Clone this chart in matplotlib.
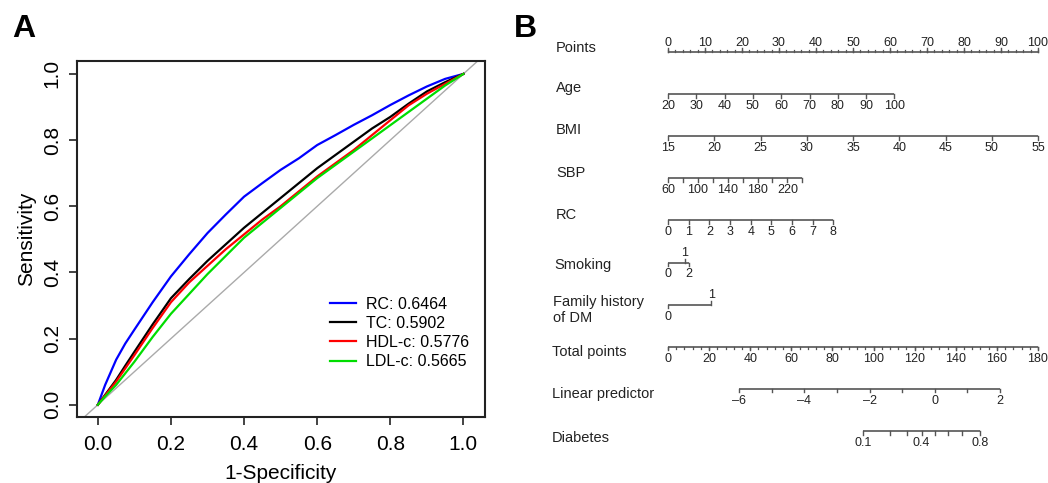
import matplotlib.pyplot as plt
import numpy as np

plt.rcParams['font.family'] = ['Liberation Sans', 'DejaVu Sans']

# ---- Panel A : ROC curves ----
fpr = [0.0, 0.02, 0.05, 0.075, 0.1, 0.15, 0.2, 0.25, 0.3, 0.35, 0.4, 0.45,
       0.5, 0.55, 0.6, 0.65, 0.7, 0.75, 0.8, 0.85, 0.9, 0.95, 1.0]
tpr_rc = [0.0, 0.06, 0.136, 0.185, 0.227, 0.31, 0.388, 0.455, 0.519, 0.575, 0.629, 0.67,
          0.71, 0.745, 0.785, 0.815, 0.846, 0.875, 0.906, 0.935, 0.962, 0.985, 1.0]
tpr_tc = [0.0, 0.03, 0.075, 0.118, 0.16, 0.243, 0.322, 0.38, 0.435, 0.485, 0.535, 0.58,
          0.625, 0.67, 0.715, 0.755, 0.795, 0.835, 0.87, 0.91, 0.947, 0.975, 1.0]
tpr_hdl = [0.0, 0.028, 0.07, 0.11, 0.15, 0.232, 0.31, 0.37, 0.42, 0.47, 0.515, 0.56,
           0.6, 0.645, 0.69, 0.73, 0.77, 0.815, 0.86, 0.905, 0.94, 0.97, 1.0]
tpr_ldl = [0.0, 0.025, 0.06, 0.095, 0.13, 0.205, 0.275, 0.335, 0.395, 0.45, 0.505, 0.55,
           0.595, 0.64, 0.685, 0.725, 0.765, 0.805, 0.845, 0.885, 0.925, 0.965, 1.0]
roc_labels = ['RC: 0.6464', 'TC: 0.5902', 'HDL-c: 0.5776', 'LDL-c: 0.5665']
roc_colors = ['#0000ff', '#000000', '#ff0000', '#00dd00']

# ---- Panel B : nomogram scales ----
points_major = [0, 10, 20, 30, 40, 50, 60, 70, 80, 90, 100]
age_ticks = [20, 30, 40, 50, 60, 70, 80, 90, 100]
age_pts = (0, 61.2)
bmi_ticks = [15, 20, 25, 30, 35, 40, 45, 50, 55]
bmi_pts = (0, 100)
sbp_ticks = [60, 80, 100, 120, 140, 160, 180, 200, 220, 240]
sbp_labels = [60, 100, 140, 180, 220]
sbp_pts = (0, 36.3)
rc_ticks = [0, 1, 2, 3, 4, 5, 6, 7, 8]
rc_pts = (0, 44.7)
smoking_levels = ['0', '1', '2']
smoking_pts = [0, 4.6, 5.7]
smoking_above = [False, True, False]
family_levels = ['0', '1']
family_pts = [0, 11.7]
family_above = [False, True]
total_major = [0, 20, 40, 60, 80, 100, 120, 140, 160, 180]
total_max = 180
lp_ticks = [-6, -5, -4, -3, -2, -1, 0, 1, 2]
lp_labels = [-6, -4, -2, 0, 2]
lp_total = (34.6, 161.5)   # total points at lp = -6 and lp = 2
prob_ticks = [0.1, 0.2, 0.3, 0.4, 0.5, 0.6, 0.7, 0.8]
prob_labels = [0.1, 0.4, 0.8]
row_names = ['Points', 'Age', 'BMI', 'SBP', 'RC', 'Smoking', 'Family history\nof DM',
             'Total points', 'Linear predictor', 'Diabetes']

fig = plt.figure(figsize=(10.48, 4.83), dpi=100)

# ----------------- A -----------------
ax = fig.add_axes([77 / 1048, 66 / 483, 408 / 1048, 356 / 483])
ax.plot([-0.1, 1.1], [-0.1, 1.1], color='#aaaaaa', lw=1.0, zorder=1)
for tpr, lab, col in zip([tpr_rc, tpr_tc, tpr_hdl, tpr_ldl], roc_labels, roc_colors):
    ax.plot(fpr, tpr, color=col, lw=1.6, label=lab, zorder=2)
ax.set_xlim(-0.057, 1.059)
ax.set_ylim(-0.037, 1.039)
ax.set_xticks([0, 0.2, 0.4, 0.6, 0.8, 1.0])
ax.set_yticks([0, 0.2, 0.4, 0.6, 0.8, 1.0])
ax.xaxis.set_major_formatter(plt.FormatStrFormatter('%.1f'))
ax.yaxis.set_major_formatter(plt.FormatStrFormatter('%.1f'))
ax.tick_params(length=6, width=1.2, labelsize=15, color='#222222')
ax.tick_params(axis='x', pad=7)
ax.tick_params(axis='y', pad=5)
for lbl in ax.get_yticklabels():
    lbl.set_rotation(90)
    lbl.set_va('center')
for s in ax.spines.values():
    s.set_linewidth(1.5)
    s.set_color('#222222')
ax.set_xlabel('1-Specificity', fontsize=15, labelpad=7)
ax.set_ylabel('Sensitivity', fontsize=15, labelpad=5)
ax.legend(loc='upper left', bbox_to_anchor=(0.62, 0.338), frameon=False, fontsize=11.5,
          handlelength=1.65, handletextpad=0.6, labelspacing=0.26, borderpad=0,
          borderaxespad=0)

fig.text(12 / 1048, 1 - 37 / 483, 'A', fontsize=23, fontweight='bold')
fig.text(514 / 1048, 1 - 37 / 483, 'B', fontsize=23, fontweight='bold')

# ----------------- B -----------------
bx = fig.add_axes([668 / 1048, 13 / 483, 370 / 1048, 460 / 483])
bx.set_xlim(0, 100)
bx.set_ylim(9.926, -0.997)
bx.axis('off')

line_col = '#555555'
txt_col = '#222222'
tick_len = 0.085
lab_fs = 9


def draw_scale(row, xs, labels=None, label_xs=None, above=None, minor=None,
               minor_len=0.05, up=False):
    bx.plot([min(xs), max(xs)], [row, row], color=line_col, lw=1.2,
            solid_capstyle='butt', clip_on=False)
    for x in xs:
        d = -tick_len if up else tick_len
        bx.plot([x, x], [row, row + d], color=line_col, lw=1.0, clip_on=False)
    if minor is not None:
        for x in minor:
            d = -minor_len if up else minor_len
            bx.plot([x, x], [row, row + d], color=line_col, lw=0.9, clip_on=False)
    if labels is None:
        return
    if label_xs is None:
        label_xs = xs
    if above is None:
        above = [up] * len(labels)
    for x, t, a in zip(label_xs, labels, above):
        if a:
            if not up:
                bx.plot([x, x], [row, row - tick_len], color=line_col, lw=1.0)
            bx.text(x, row - 0.08, t, ha='center', va='bottom', fontsize=lab_fs,
                    color=txt_col)
        else:
            bx.text(x, row + 0.14, t, ha='center', va='top', fontsize=lab_fs,
                    color=txt_col)


def scale(vals, v0, v1, p0, p1):
    vals = np.asarray(vals, dtype=float)
    return p0 + (vals - v0) / (v1 - v0) * (p1 - p0)


# Points
draw_scale(0, points_major, [str(v) for v in points_major],
           minor=np.arange(0, 101, 2), up=True)
# Age
ax_x = scale(age_ticks, age_ticks[0], age_ticks[-1], *age_pts)
draw_scale(1, ax_x, [str(v) for v in age_ticks])
# BMI
bx_x = scale(bmi_ticks, bmi_ticks[0], bmi_ticks[-1], *bmi_pts)
draw_scale(2, bx_x, [str(v) for v in bmi_ticks])
# SBP
sx = scale(sbp_ticks, sbp_ticks[0], sbp_ticks[-1], *sbp_pts)
draw_scale(3, sx, [str(v) for v in sbp_labels],
           label_xs=scale(sbp_labels, sbp_ticks[0], sbp_ticks[-1], *sbp_pts))
# RC
rx = scale(rc_ticks, rc_ticks[0], rc_ticks[-1], *rc_pts)
draw_scale(4, rx, [str(v) for v in rc_ticks])
# Smoking
draw_scale(5, [smoking_pts[0], smoking_pts[2]], smoking_levels, label_xs=smoking_pts,
           above=smoking_above)
# Family history
draw_scale(6, family_pts[:1], family_levels, label_xs=family_pts, above=family_above)
bx.plot(family_pts, [6, 6], color=line_col, lw=1.2)
# Total points
tx = scale(total_major, 0, total_max, 0, 100)
draw_scale(7, tx, [str(v) for v in total_major],
           minor=scale(np.arange(0, 181, 4), 0, total_max, 0, 100))
# Linear predictor
lp_x = scale(scale(lp_ticks, lp_ticks[0], lp_ticks[-1], *lp_total), 0, total_max, 0, 100)
lp_lab_x = scale(scale(lp_labels, lp_ticks[0], lp_ticks[-1], *lp_total), 0, total_max, 0, 100)
draw_scale(8, lp_x, ['\u2013' + str(-v) if v < 0 else str(v) for v in lp_labels],
           label_xs=lp_lab_x)
# Diabetes (probability on logit scale)
logit = lambda p: np.log(np.asarray(p) / (1 - np.asarray(p)))
px = scale(scale(logit(prob_ticks), lp_ticks[0], lp_ticks[-1], *lp_total), 0, total_max, 0, 100)
plx = scale(scale(logit(prob_labels), lp_ticks[0], lp_ticks[-1], *lp_total), 0, total_max, 0, 100)
draw_scale(9, px, [str(v) for v in prob_labels], label_xs=plx)

# row titles
name_dy = [-0.1, -0.15, -0.15, -0.12, -0.12, 0.05, 0.12, 0.12, 0.12, 0.17]
name_x = [-30.3, -30.3, -30.3, -30.3, -30.3, -30.6, -31.2, -31.4, -31.4, -31.4]
for i, (nm, dy, x) in enumerate(zip(row_names, name_dy, name_x)):
    bx.text(x, i + dy, nm, ha='left', va='center', fontsize=10.5, color=txt_col,
            linespacing=1.15, clip_on=False)

plt.savefig('out.png', dpi=100)
